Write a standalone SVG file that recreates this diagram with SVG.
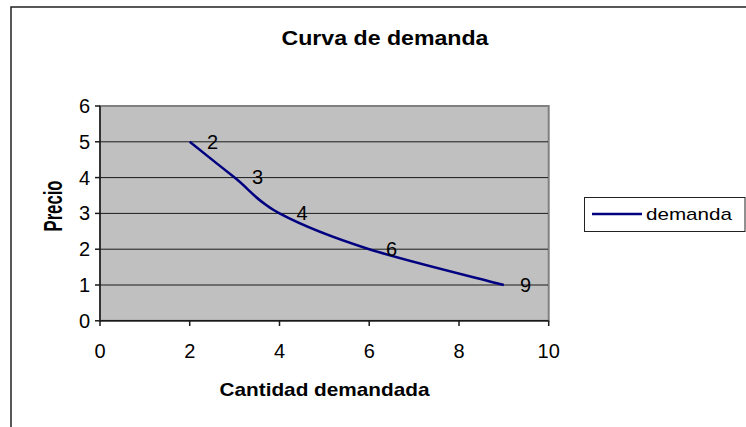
<svg xmlns="http://www.w3.org/2000/svg" width="746" height="427" viewBox="0 0 746 427">
<style>
text{font-family:"Liberation Sans",Arial,sans-serif;fill:#000}
.b{font-weight:bold}
.num{font-size:20px}
.grid{stroke:#1a1a1a;stroke-width:1}
.axis{stroke:#1a1a1a;stroke-width:1.5}
</style>
<rect x="0" y="0" width="746" height="427" fill="#fff"/>
<g id="frame"><rect x="11" y="7" width="800" height="500" fill="none" stroke="#222" stroke-width="1.5"/></g>
<g id="title"><text class="b" x="385" y="45" font-size="19.5" text-anchor="middle" textLength="207" lengthAdjust="spacingAndGlyphs">Curva de demanda</text></g>
<g id="plot">
<rect x="100" y="106" width="448.7" height="214.8" fill="#c0c0c0" stroke="#808080" stroke-width="2"/>
<g class="grid">
<line x1="100" y1="141.8" x2="548" y2="141.8"/>
<line x1="100" y1="177.6" x2="548" y2="177.6"/>
<line x1="100" y1="213.4" x2="548" y2="213.4"/>
<line x1="100" y1="249.2" x2="548" y2="249.2"/>
<line x1="100" y1="285" x2="548" y2="285"/>
</g>
<g class="axis">
<line x1="100" y1="106" x2="100" y2="320.8"/>
<line x1="100" y1="320.8" x2="548.7" y2="320.8"/>
<line x1="95" y1="106" x2="100" y2="106"/>
<line x1="95" y1="141.8" x2="100" y2="141.8"/>
<line x1="95" y1="177.6" x2="100" y2="177.6"/>
<line x1="95" y1="213.4" x2="100" y2="213.4"/>
<line x1="95" y1="249.2" x2="100" y2="249.2"/>
<line x1="95" y1="285" x2="100" y2="285"/>
<line x1="95" y1="320.8" x2="100" y2="320.8"/>
<line x1="100" y1="320.8" x2="100" y2="326"/>
<line x1="189.7" y1="320.8" x2="189.7" y2="326"/>
<line x1="279.5" y1="320.8" x2="279.5" y2="326"/>
<line x1="369.2" y1="320.8" x2="369.2" y2="326"/>
<line x1="459" y1="320.8" x2="459" y2="326"/>
<line x1="548.7" y1="320.8" x2="548.7" y2="326"/>
</g>
</g>
<g id="y-ticks" class="num" text-anchor="end">
<text x="90" y="113">6</text>
<text x="90" y="148.8">5</text>
<text x="90" y="184.6">4</text>
<text x="90" y="220.4">3</text>
<text x="90" y="256.2">2</text>
<text x="90" y="292">1</text>
<text x="90" y="327.8">0</text>
</g>
<g id="x-ticks" class="num" text-anchor="middle">
<text x="100" y="358">0</text>
<text x="189.7" y="358">2</text>
<text x="279.5" y="358">4</text>
<text x="369.2" y="358">6</text>
<text x="459" y="358">8</text>
<text x="548.7" y="358">10</text>
</g>
<g id="x-label"><text class="b" x="324.5" y="395.7" font-size="18.6" text-anchor="middle" textLength="210" lengthAdjust="spacingAndGlyphs">Cantidad demandada</text></g>
<g id="y-label"><text class="b" transform="translate(62,206) rotate(-90) scale(1,1.25)" font-size="20" text-anchor="middle" textLength="51" lengthAdjust="spacingAndGlyphs">Precio</text></g>
<g id="connectors">
<path d="M189.7,141.8 C197.2,147.8 219.6,165.7 234.6,177.6 C249.6,189.5 257.1,201.5 279.5,213.4 C301.9,225.3 331.8,237.3 369.2,249.2 C406.6,261.1 481.4,279 503.8,285" fill="none" stroke="#000080" stroke-width="2.5"/>
</g>
<g id="data-labels" class="num">
<text x="207" y="148.5">2</text>
<text x="252" y="184.3">3</text>
<text x="296.5" y="220.1">4</text>
<text x="386" y="255.9">6</text>
<text x="520" y="291.7">9</text>
</g>
<g id="legend">
<rect x="584.5" y="197.5" width="160.5" height="34" fill="#fff" stroke="#222" stroke-width="1"/>
<line x1="592" y1="214" x2="642" y2="214" stroke="#000080" stroke-width="2.5"/>
<text x="646" y="219.5" font-size="17" textLength="86" lengthAdjust="spacingAndGlyphs">demanda</text>
</g>
</svg>
